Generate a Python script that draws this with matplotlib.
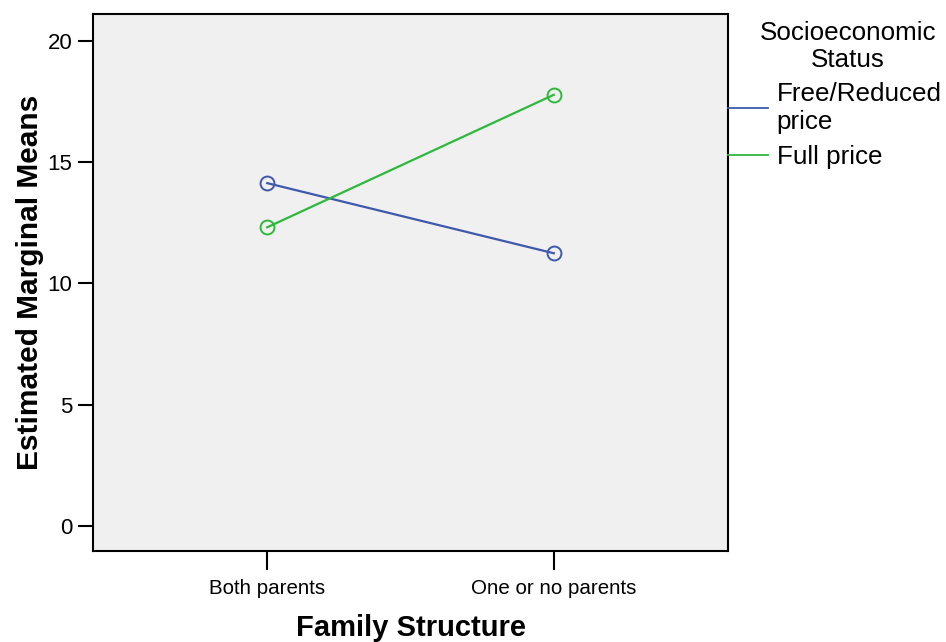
import matplotlib
matplotlib.use("Agg")
import matplotlib.pyplot as plt
from matplotlib.lines import Line2D

plt.rcParams['font.family'] = ['Liberation Sans', 'DejaVu Sans']

# Estimated marginal means by family structure and socioeconomic status
categories = ["Both parents", "One or no parents"]
free_reduced = [14.13, 11.24]
full_price = [12.31, 17.77]
series_names = ["Free/Reduced\nprice", "Full price"]
legend_title = "Socioeconomic\nStatus"
colors = ["#3F58AB", "#2EB83C"]
yticks = [0, 5, 10, 15, 20]

W, H = 946, 642
fig = plt.figure(figsize=(W / 100, H / 100), dpi=100)
ax = fig.add_axes([93 / W, 1 - 551 / H, (728 - 93) / W, (551 - 14) / H])
ax.set_facecolor("#F0F0F0")

x = list(range(len(categories)))
for vals, c in zip([free_reduced, full_price], colors):
    ax.plot(x, vals, color=c, lw=1.6, marker="o", markersize=10,
            markerfacecolor="none", markeredgecolor=c, markeredgewidth=1.4)

ax.set_xlim(-0.608, 1.608)
ax.set_ylim(-1.03, 21.1)
ax.set_xticks(x)
ax.set_xticklabels(categories, fontsize=14.8)
ax.set_yticks(yticks)
ax.set_yticklabels([str(v) for v in yticks], fontsize=16)
ax.tick_params(axis="x", direction="out", length=14, width=1.5, pad=6)
ax.tick_params(axis="y", direction="out", length=11, width=1.5, pad=4)
for s in ax.spines.values():
    s.set_linewidth(1.5)

ax.set_xlabel("Family Structure", fontsize=21, fontweight="bold", labelpad=12)
ax.set_ylabel("Estimated Marginal Means", fontsize=21.5, fontweight="bold", labelpad=2.5)

# Legend entries, with the title placed separately above them
handles = [Line2D([0], [0], color=c, lw=1.3) for c in colors]
leg = ax.legend(handles, series_names, loc="upper left",
                bbox_to_anchor=(728 / W, 1 - 82 / H), bbox_transform=fig.transFigure,
                borderaxespad=0, frameon=False, fontsize=18.7,
                handlelength=1.55, handletextpad=0.33, labelspacing=0.45,
                borderpad=0.0)
fig.text(848 / W, 1 - 46.5 / H, legend_title, fontsize=18.7,
         ha="center", va="center", multialignment="center")

fig.savefig("out.png", dpi=100)
